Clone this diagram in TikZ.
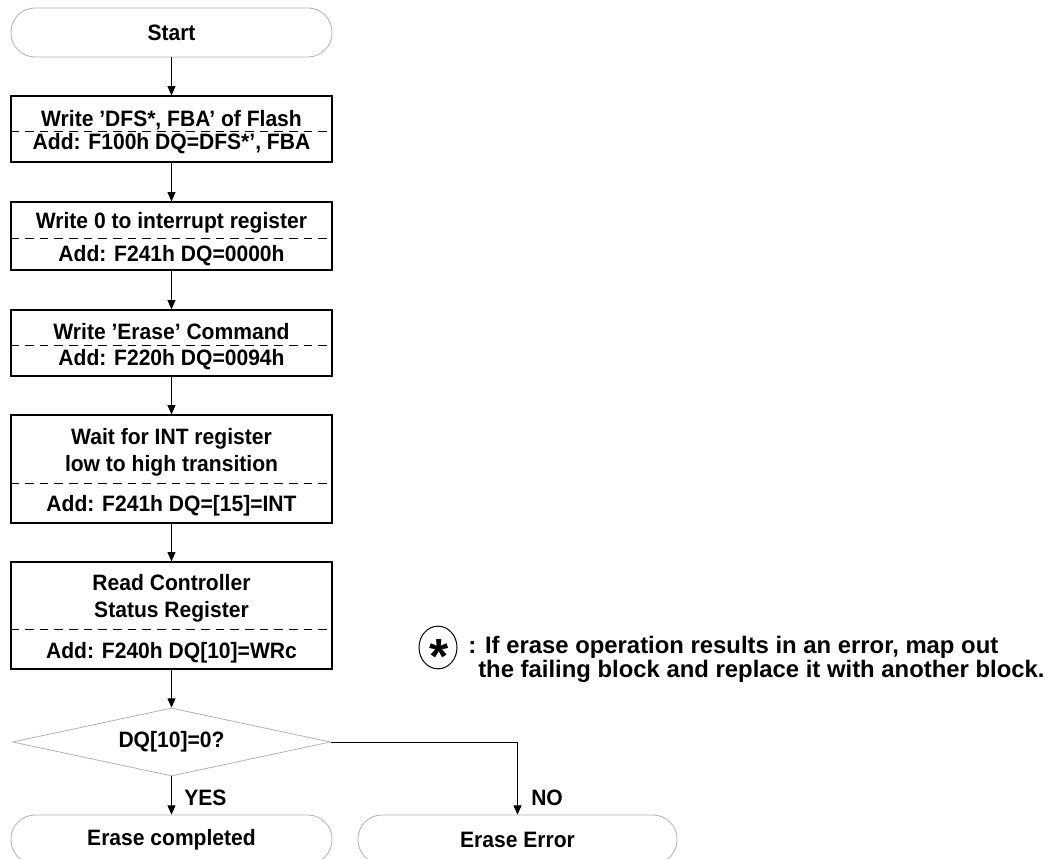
\documentclass[tikz,border=0pt]{standalone}
\usepackage{fontspec}
\setmainfont{Liberation Sans}
\newfontfamily\boxff[FakeStretch=0.946]{Liberation Sans}
\usetikzlibrary{arrows.meta,shapes.geometric}
\newcommand{\boxfont}{\boxff\fontsize{16.7pt}{19pt}\selectfont\bfseries}
\newcommand{\notefont}{\fontsize{17.9pt}{17.6pt}\selectfont\bfseries}
\begin{document}
\begin{tikzpicture}[x=0.75pt,y=-0.75pt,
  term/.style={draw=gray!60, line width=0.6pt, rounded corners=18pt,
    minimum width=240.75pt, minimum height=36.75pt, inner sep=0pt, font=\boxfont},
  stepbox/.style={draw, line width=0.9pt, minimum width=240.75pt, inner sep=0pt},
  dec/.style={diamond, draw=gray!60, line width=0.6pt, inner sep=0pt,
    shape aspect=4.7, minimum width=238.5pt, minimum height=51pt, font=\boxfont},
  lbl/.style={inner sep=0pt, text height=12pt, text depth=0pt, font=\boxfont},
  sep/.style={dashed, dash pattern=on 6.5pt off 4.5pt, line width=0.6pt},
  arr/.style={-{Triangle[length=7pt,width=6pt]}, line width=0.75pt},
  note/.style={inner sep=0pt, font=\notefont, align=left}]
\useasboundingbox (0,0) rectangle (1061,859);
\clip (0,0) rectangle (1061,859);

% start
\node[term] (start) at (171.5,32.5) {Start};

% box 1
\node[stepbox, minimum height=49.5pt] (b1) at (171.5,129) {};
\draw[sep] (b1.west |- 0,131) -- (b1.east |- 0,131);
\node[lbl] (t1a) at (171.5,119) {Write ’DFS*, FBA’ of Flash};
\node[lbl] (t1b) at (171.5,142) {Add: F100h DQ=DFS*’, FBA};

% box 2
\node[stepbox, minimum height=51pt] (b2) at (171.5,236) {};
\draw[sep] (b2.west |- 0,238) -- (b2.east |- 0,238);
\node[lbl] (t2a) at (171.5,221) {Write 0 to interrupt register};
\node[lbl] (t2b) at (171.5,254) {Add: F241h DQ=0000h};

% box 3
\node[stepbox, minimum height=49.5pt] (b3) at (171.5,343) {};
\draw[sep] (b3.west |- 0,345) -- (b3.east |- 0,345);
\node[lbl] (t3a) at (171.5,332) {Write ’Erase’ Command};
\node[lbl] (t3b) at (171.5,358) {Add: F220h DQ=0094h};

% box 4
\node[stepbox, minimum height=81pt] (b4) at (171.5,469) {};
\draw[sep] (b4.west |- 0,483) -- (b4.east |- 0,483);
\node[lbl] (t4a) at (171.5,437) {Wait for INT register};
\node[lbl] (t4b) at (171.5,463) {low to high transition};
\node[lbl] (t4c) at (171.5,503) {Add: F241h DQ=[15]=INT};

% box 5
\node[stepbox, minimum height=80.25pt] (b5) at (171.5,615.5) {};
\draw[sep] (b5.west |- 0,629) -- (b5.east |- 0,629);
\node[lbl] (t5a) at (171.5,582) {Read Controller};
\node[lbl] (t5b) at (171.5,609) {Status Register};
\node[lbl] (t5c) at (171.5,650) {Add: F240h DQ[10]=WRc};

% decision
\node[dec] (dec) at (171.5,742) {DQ[10]=0?};

% ends
\node[term] (end1) at (171.5,839.5) {Erase completed};
\node[term, minimum width=239.25pt] (end2) at (517.5,839.5) {Erase Error};

% connectors
\draw[arr] (start) -- (b1);
\draw[arr] (b1) -- (b2);
\draw[arr] (b2) -- (b3);
\draw[arr] (b3) -- (b4);
\draw[arr] (b4) -- (b5);
\draw[arr] (b5) -- (dec);
\draw[arr] (dec.south) -- (end1.north);
\draw[arr] (dec.east) -| (end2.north);
\node[lbl, anchor=west] (yes) at (184,797) {YES};
\node[lbl, anchor=west] (no) at (531,797) {NO};

% note
\node[ellipse, draw, line width=0.75pt, minimum width=28.5pt, minimum height=32pt, inner sep=0pt] (circ) at (438,647.5) {};
\node[inner sep=0pt, anchor=base, font=\fontsize{37pt}{37pt}\selectfont\bfseries] (ast) at (439,673) {*};
\node[note, anchor=base west] (note) at (468,677) {: If erase operation results in an error, map out\\\hspace*{7.5pt}the failing block and replace it with another block.};
\end{tikzpicture}
\end{document}
